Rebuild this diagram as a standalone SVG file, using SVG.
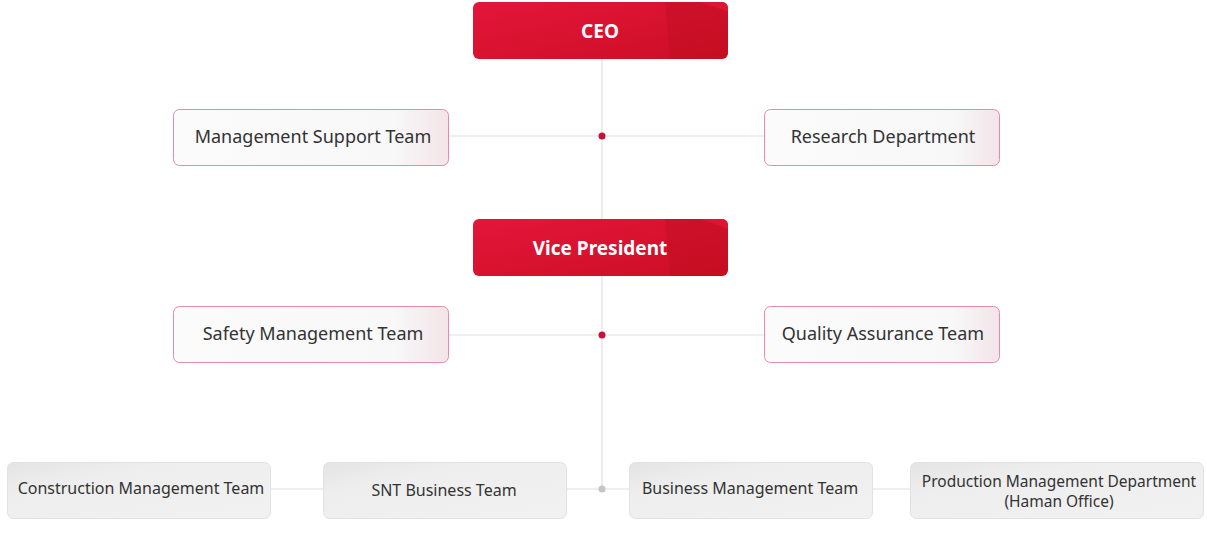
<svg xmlns="http://www.w3.org/2000/svg" width="1207" height="551" viewBox="0 0 1207 551">
<style>
.t{font-family:"Noto Sans","Liberation Sans",sans-serif;fill:#333;text-anchor:middle}
.big{font-size:18px}
.sm{font-size:16px}
.w{font-family:"Noto Sans","Liberation Sans",sans-serif;fill:#fff;font-weight:bold;font-size:19px;text-anchor:middle}
.line{stroke:#e0e0e0;stroke-width:1.2;fill:none}
.pink{fill:url(#gw);stroke:#e98aa6;stroke-width:1}
.gray{fill:url(#gg);stroke:#e2e2e2;stroke-width:1}
</style>
<defs>
<linearGradient id="gr" x1="0" y1="0" x2="1" y2="1">
<stop offset="0" stop-color="#e4163a"/>
<stop offset="1" stop-color="#cc0e24"/>
</linearGradient>
<linearGradient id="gw" x1="0" y1="0" x2="1" y2="0">
<stop offset="0" stop-color="#fbfbfb"/>
<stop offset="0.8" stop-color="#f8f8f8"/>
<stop offset="1" stop-color="#f3e4e8"/>
</linearGradient>
<linearGradient id="gg" x1="0" y1="0" x2="1" y2="1">
<stop offset="0" stop-color="#e4e4e4"/>
<stop offset="0.3" stop-color="#eeeeee"/>
<stop offset="1" stop-color="#f1f1f1"/>
</linearGradient>
<clipPath id="c1"><rect x="473" y="2" width="255" height="57" rx="6"/></clipPath>
<clipPath id="c2"><rect x="473" y="219" width="255" height="57" rx="6"/></clipPath>
</defs>
<g id="connectors">
<line class="line" x1="602" y1="59" x2="602" y2="489"/>
<line class="line" x1="449" y1="136" x2="764" y2="136"/>
<line class="line" x1="449" y1="335" x2="764" y2="335"/>
<line class="line" x1="271" y1="489" x2="323" y2="489"/>
<line class="line" x1="567" y1="489" x2="629" y2="489"/>
<line class="line" x1="873" y1="489" x2="910" y2="489"/>
<circle cx="602" cy="136" r="3.5" fill="#c8103a"/>
<circle cx="602" cy="335" r="3.5" fill="#c8103a"/>
<circle cx="602" cy="489" r="3.5" fill="#c4c4c4"/>
</g>
<g id="ceo">
<rect x="473" y="2" width="255" height="57" rx="6" fill="url(#gr)"/>
<g clip-path="url(#c1)">
<polygon points="665,2 740,2 740,59 670,59" fill="#b80f1c" opacity="0.35"/>
<polygon points="700,2 740,2 740,16" fill="#ee1a3c" opacity="0.5"/>
</g>
<text class="w" x="600" y="38">CEO</text>
</g>
<g id="management-support">
<rect class="pink" x="173.5" y="109.5" width="275" height="56" rx="6"/>
<text class="t big" x="313" y="143">Management Support Team</text>
</g>
<g id="research">
<rect class="pink" x="764.5" y="109.5" width="235" height="56" rx="6"/>
<text class="t big" x="883" y="143">Research Department</text>
</g>
<g id="vice-president">
<rect x="473" y="219" width="255" height="57" rx="6" fill="url(#gr)"/>
<g clip-path="url(#c2)">
<polygon points="665,219 740,219 740,276 670,276" fill="#b80f1c" opacity="0.35"/>
<polygon points="700,219 740,219 740,233" fill="#ee1a3c" opacity="0.5"/>
</g>
<text class="w" x="600" y="255">Vice President</text>
</g>
<g id="safety">
<rect class="pink" x="173.5" y="306.5" width="275" height="56" rx="6"/>
<text class="t big" x="313" y="340">Safety Management Team</text>
</g>
<g id="quality">
<rect class="pink" x="764.5" y="306.5" width="235" height="56" rx="6"/>
<text class="t big" x="883" y="340">Quality Assurance Team</text>
</g>
<g id="construction">
<rect class="gray" x="7.5" y="462.5" width="263" height="56" rx="6"/>
<text class="t sm" x="141" y="494">Construction Management Team</text>
</g>
<g id="snt">
<rect class="gray" x="323.5" y="462.5" width="243" height="56" rx="6"/>
<text class="t sm" x="444" y="496">SNT Business Team</text>
</g>
<g id="business">
<rect class="gray" x="629.5" y="462.5" width="243" height="56" rx="6"/>
<text class="t sm" x="750" y="494">Business Management Team</text>
</g>
<g id="production">
<rect class="gray" x="910.5" y="462.5" width="293" height="56" rx="6"/>
<text class="t" style="font-size:15.5px" x="1059" y="487">Production Management Department</text>
<text class="t" style="font-size:15.5px" x="1059" y="507">(Haman Office)</text>
</g>
</svg>
